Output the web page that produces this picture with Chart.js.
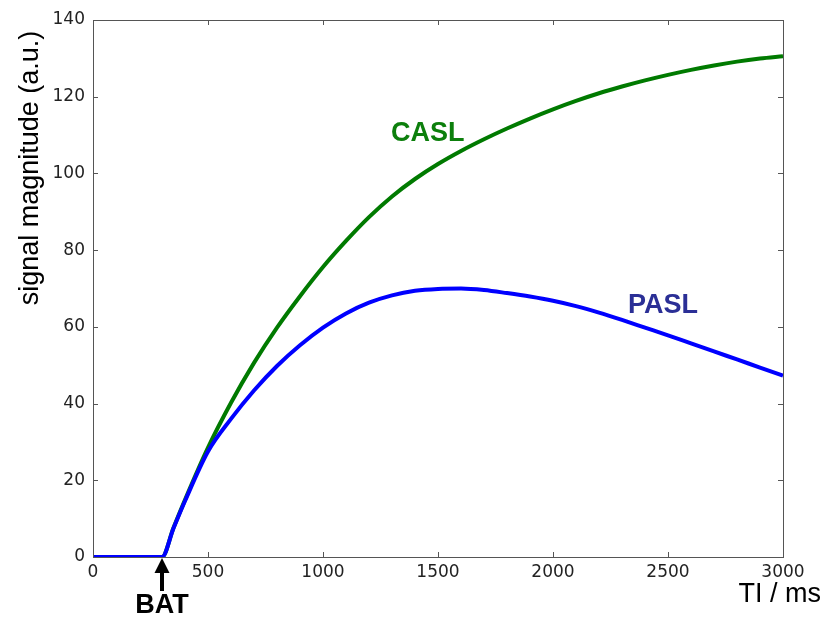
<!DOCTYPE html>
<html>
<head>
<meta charset="utf-8">
<script src="https://cdn.jsdelivr.net/npm/chart.js@4.4.0/dist/chart.umd.min.js"></script>
<style>
  html, body { margin: 0; padding: 0; background: #fff; }
  #wrap { width: 825px; height: 617px; }
</style>
</head>
<body>
<div id="wrap"><canvas id="ctx" width="825" height="617"></canvas></div>
<script>
// inversion time in ms
const ti = [0, 300, 350, 400, 500, 600, 700, 800, 900, 1000, 1100, 1200, 1300, 1400, 1500, 1600, 1700, 1800, 1900, 2000,
    2100, 2200, 2300, 2400, 2500, 2600, 2700, 2800, 2900, 3000];
const casl = [0, 0, 7.6, 14.9, 28.5, 40.2, 50.6, 59.8, 68.0, 75.6, 82.4, 88.6, 94.0, 98.55, 102.45, 105.85, 108.9, 111.7, 114.3, 116.7,
    118.9, 120.9, 122.65, 124.25, 125.7, 127.0, 128.15, 129.15, 129.95, 130.55];
const pasl = [0, 0, 7.5, 14.6, 27.5, 36.0, 43.4, 49.8, 55.2, 59.8, 63.5, 66.3, 68.2, 69.4, 69.9, 70.0, 69.6, 68.8, 67.9, 66.8,
    65.4, 63.7, 61.8, 59.8, 57.8, 55.7, 53.6, 51.5, 49.4, 47.3];
const xTicks = [0, 500, 1000, 1500, 2000, 2500, 3000];
const yTicks = [0, 20, 40, 60, 80, 100, 120, 140];
const bat = 300;

const toPts = (ys) => ti.map((x, i) => ({x: x, y: ys[i]}));

// matplotlib-like frame with inward ticks + text labels
const extras = {
    id: 'extras',
    afterDraw(chart) {
        const c = chart.ctx;
        const a = chart.chartArea;
        const xs = chart.scales.x, ys = chart.scales.y;
        c.save();
        c.strokeStyle = '#555';
        c.lineWidth = 1;
        c.strokeRect(a.left + 0.5, a.top + 0.5, a.right - a.left, a.bottom - a.top);
        c.beginPath();
        xTicks.forEach(v => {
            let px = Math.round(xs.getPixelForValue(v)) + 0.5;
            c.moveTo(px, a.bottom); c.lineTo(px, a.bottom - 5);
            c.moveTo(px, a.top); c.lineTo(px, a.top + 5);
        });
        yTicks.forEach(v => {
            let py = Math.round(ys.getPixelForValue(v)) + 0.5;
            c.moveTo(a.left, py); c.lineTo(a.left + 5, py);
            c.moveTo(a.right, py); c.lineTo(a.right - 5, py);
        });
        c.stroke();

        // BAT arrow
        let bx = xs.getPixelForValue(bat);
        c.fillStyle = '#000';
        c.strokeStyle = '#000';
        c.lineWidth = 4;
        c.beginPath();
        c.moveTo(bx, 591); c.lineTo(bx, 570);
        c.stroke();
        c.beginPath();
        c.moveTo(bx, 558);
        c.lineTo(bx - 7.5, 573);
        c.lineTo(bx + 7.5, 573);
        c.closePath();
        c.fill();
        c.font = 'bold 27px "Liberation Sans", Arial, sans-serif';
        c.textAlign = 'center';
        c.textBaseline = 'alphabetic';
        c.fillText('BAT', bx, 613);

        // axis titles
        c.font = '27px "Liberation Sans", Arial, sans-serif';
        c.fillStyle = '#000';
        c.textAlign = 'right';
        c.fillText('TI / ms', 821, 602);
        c.save();
        c.translate(31, 168);
        c.rotate(-Math.PI / 2);
        c.textAlign = 'center';
        c.textBaseline = 'middle';
        c.fillText('signal magnitude (a.u.)', 0, 0);
        c.restore();

        // curve labels
        c.font = 'bold 27px "Liberation Sans", Arial, sans-serif';
        c.textAlign = 'left';
        c.fillStyle = '#0c7f0c';
        c.fillText('CASL', 391, 141);
        c.fillStyle = '#2b2f96';
        c.fillText('PASL', 628, 313);
        c.restore();
    }
};

new Chart(document.getElementById('ctx'), {
    type: 'line',
    data: {
        datasets: [{
            label: 'PASL',
            data: toPts(pasl),
            borderColor: '#0000ff',
            borderWidth: 4,
            pointRadius: 0,
            cubicInterpolationMode: 'monotone',
            fill: false
        }, {
            label: 'CASL',
            data: toPts(casl),
            borderColor: '#007a00',
            borderWidth: 4,
            pointRadius: 0,
            cubicInterpolationMode: 'monotone',
            fill: false
        }]
    },
    options: {
        responsive: false,
        animation: false,
        events: [],
        layout: { padding: { top: 20, right: 42, left: 0, bottom: 0 } },
        plugins: { legend: { display: false }, tooltip: { enabled: false } },
        scales: {
            x: {
                type: 'linear',
                min: 0, max: 3000,
                afterFit: (s) => { s.height = 60; },
                afterBuildTicks: (s) => { s.ticks = xTicks.map(v => ({value: v})); },
                grid: { display: false, drawTicks: false },
                border: { display: false },
                ticks: {
                    padding: 5,
                    maxRotation: 0,
                    color: '#222',
                    font: { family: '"DejaVu Sans"', size: 17 },
                    callback: (v) => String(v)
                }
            },
            y: {
                min: 0, max: 140,
                afterFit: (s) => { s.width = 93; },
                afterBuildTicks: (s) => { s.ticks = yTicks.map(v => ({value: v})); },
                grid: { display: false, drawTicks: false },
                border: { display: false },
                ticks: {
                    padding: 8,
                    color: '#222',
                    font: { family: '"DejaVu Sans"', size: 17 },
                    callback: (v) => String(v)
                }
            }
        }
    },
    plugins: [extras]
});
</script>
</body>
</html>
